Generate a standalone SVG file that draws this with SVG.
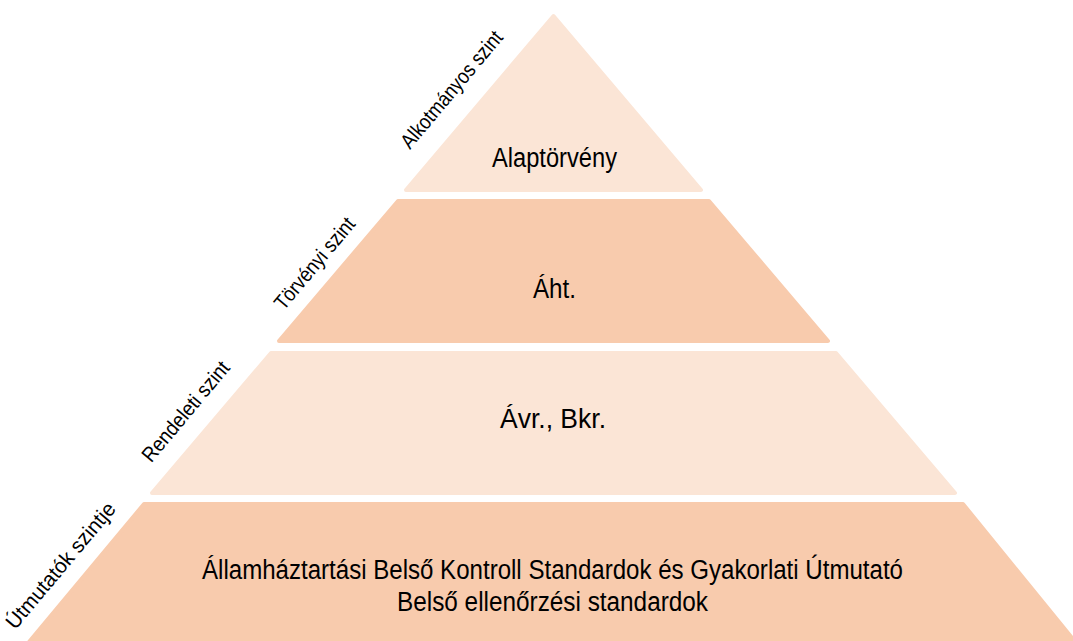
<svg xmlns="http://www.w3.org/2000/svg" width="1073" height="641" viewBox="0 0 1073 641">
<style>
.light{fill:#FBE5D6;stroke:#FBE5D6;stroke-width:4;stroke-linejoin:round}
.dark{fill:#F8CBAD;stroke:#F8CBAD;stroke-width:4;stroke-linejoin:round}
.main{font-family:"Liberation Sans Narrow","Liberation Sans",Arial,sans-serif;font-size:27px;fill:#000;text-anchor:middle}
.side{font-family:"Liberation Sans Narrow","Liberation Sans",Arial,sans-serif;font-size:21px;fill:#000;text-anchor:middle}
</style>
<rect width="1073" height="641" fill="#FFFFFF"/>
<g id="level1">
<polygon class="light" points="553.5,16 701,190 406,190"/>
<text class="main" x="554.5" y="167" textLength="125" lengthAdjust="spacingAndGlyphs">Alaptörvény</text>
<text class="side" transform="translate(457,94) rotate(-50)" textLength="146" lengthAdjust="spacingAndGlyphs">Alkotmányos szint</text>
</g>
<g id="level2">
<polygon class="dark" points="398,201 709,201 828,341 279,341"/>
<text class="main" x="554.5" y="298" textLength="43" lengthAdjust="spacingAndGlyphs">Áht.</text>
<text class="side" transform="translate(320,268) rotate(-50)" textLength="113" lengthAdjust="spacingAndGlyphs">Törvényi szint</text>
</g>
<g id="level3">
<polygon class="light" points="271,353 836,353 955,493 152,493"/>
<text class="main" x="553" y="428" textLength="106" lengthAdjust="spacingAndGlyphs">Ávr., Bkr.</text>
<text class="side" transform="translate(191,416) rotate(-50)" textLength="124" lengthAdjust="spacingAndGlyphs">Rendeleti szint</text>
</g>
<g id="level4">
<polygon class="dark" points="144,504 963,504 1090,660 14,660"/>
<text class="main" x="552.5" y="579" textLength="701" lengthAdjust="spacingAndGlyphs">Államháztartási Belső Kontroll Standardok és Gyakorlati Útmutató</text>
<text class="main" x="552.5" y="611" textLength="311" lengthAdjust="spacingAndGlyphs">Belső ellenőrzési standardok</text>
<text class="side" transform="translate(66,570) rotate(-50)" textLength="158" lengthAdjust="spacingAndGlyphs">Útmutatók szintje</text>
</g>
<g id="connectors"/>
</svg>
